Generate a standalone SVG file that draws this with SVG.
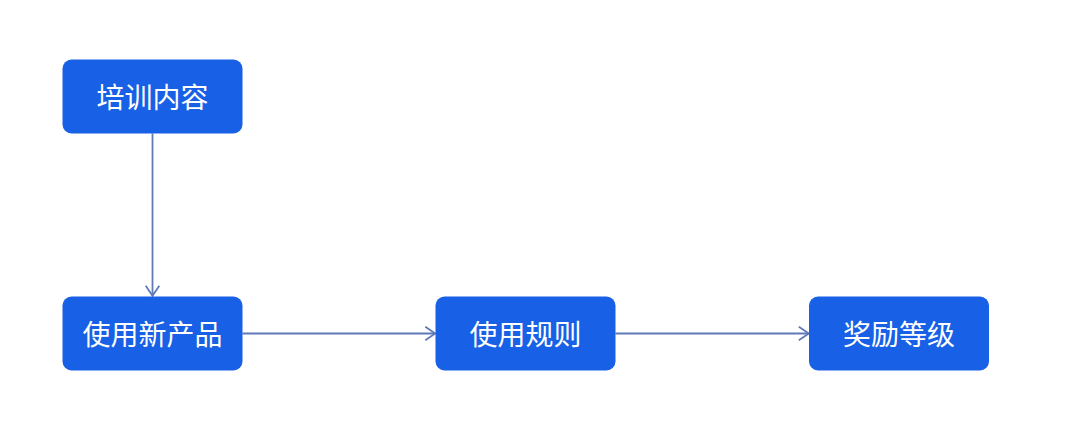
<svg xmlns="http://www.w3.org/2000/svg" width="1080" height="441" viewBox="0 0 1080 441">
<style>
.box{fill:#1860E6;}
.lbl{fill:#FFFFFF;font-family:"Noto Sans CJK SC","Noto Sans",sans-serif;font-size:28px;text-anchor:middle;dominant-baseline:central;}
.edge{stroke:#6079B8;stroke-width:1.8;fill:none;}
</style>
<defs>
<marker id="arr" viewBox="0 0 12 16" refX="11.2" refY="8" markerWidth="12" markerHeight="16" markerUnits="userSpaceOnUse" orient="auto">
<path d="M1,1.2 L11,8 L1,14.8" fill="none" stroke="#6079B8" stroke-width="1.8"/>
</marker>
</defs>
<rect width="1080" height="441" fill="#FFFFFF"/>
<g id="connectors">
<line class="edge" x1="152.5" y1="133.5" x2="152.5" y2="296" marker-end="url(#arr)"/>
<line class="edge" x1="242.5" y1="333.5" x2="435.5" y2="333.5" marker-end="url(#arr)"/>
<line class="edge" x1="615.5" y1="333.5" x2="809" y2="333.5" marker-end="url(#arr)"/>
</g>
<g id="n1"><rect class="box" x="62.5" y="59.5" width="180" height="74" rx="9"/><text class="lbl" x="152.5" y="96">培训内容</text></g>
<g id="n2"><rect class="box" x="62.5" y="296.5" width="180" height="74" rx="9"/><text class="lbl" x="152.5" y="333">使用新产品</text></g>
<g id="n3"><rect class="box" x="435.5" y="296.5" width="180" height="74" rx="9"/><text class="lbl" x="525.5" y="333">使用规则</text></g>
<g id="n4"><rect class="box" x="809" y="296.5" width="180" height="74" rx="9"/><text class="lbl" x="899" y="333">奖励等级</text></g>
</svg>
